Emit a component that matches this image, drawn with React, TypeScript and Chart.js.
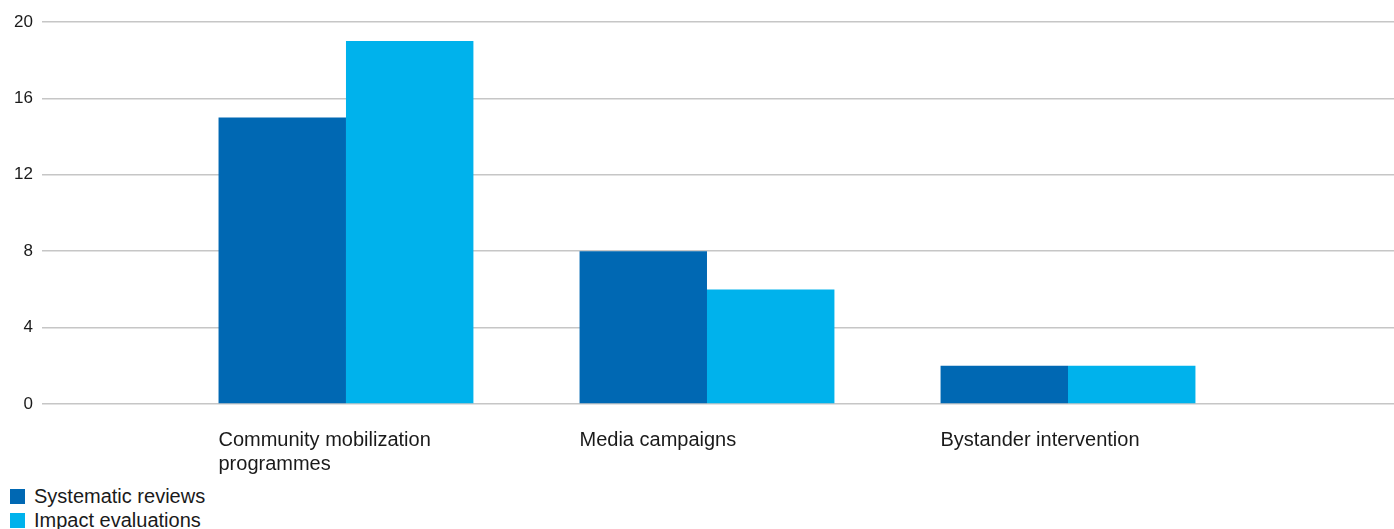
import React, { useEffect, useRef } from 'react';
import { Chart, registerables } from 'chart.js';

Chart.register(...registerables);

const categories: string[][] = [
  ['Community mobilization', 'programmes'],
  ['Media campaigns'],
  ['Bystander intervention'],
];
const systematicReviews = [15, 8, 2];
const impactEvaluations = [19, 6, 2];
const seriesNames = ['Systematic reviews', 'Impact evaluations'];
const seriesColors = ['#0068B3', '#00B2EC'];
const yTicks = [0, 4, 8, 12, 16, 20];

const FONT = '"Liberation Sans", Arial, Helvetica, sans-serif';
const TEXT = '#1a1a1a';

export default function App() {
  const ref = useRef<HTMLCanvasElement>(null);

  useEffect(() => {
    const canvas = ref.current;
    if (!canvas) return;
    const series = [systematicReviews, impactEvaluations];
    const chart = new Chart(canvas, {
      type: 'bar',
      data: {
        datasets: series.map((vals, k) => ({
          label: seriesNames[k],
          data: vals.map((v, i) => ({ x: i, y: v })),
          backgroundColor: seriesColors[k],
          borderWidth: 0,
          categoryPercentage: 0.706,
          barPercentage: 1,
        })),
      },
      options: {
        animation: false,
        responsive: false,
        maintainAspectRatio: false,
        layout: { padding: { top: 22, left: 0, right: 0, bottom: 0 } },
        plugins: {
          legend: { display: false },
          tooltip: { enabled: false },
        },
        scales: {
          x: {
            type: 'linear',
            offset: false,
            min: -0.842,
            max: 2.903,
            grid: { display: false },
            border: { display: false },
            ticks: {
              stepSize: 1,
              includeBounds: false,
              autoSkip: false,
              maxRotation: 0,
              minRotation: 0,
              align: 'start',
              labelOffset: -127.5,
              padding: 16,
              color: TEXT,
              font: { family: FONT, size: 20, lineHeight: 1.2 },
              callback: (v: any) => categories[v as number] ?? '',
            },
            afterFit: (s: any) => {
              s.height = 74;
            },
          },
          y: {
            min: 0,
            max: 20,
            grid: { color: '#c6c6c6', lineWidth: 1.6, drawTicks: false },
            border: { display: false },
            ticks: {
              stepSize: 4,
              padding: 9,
              color: TEXT,
              font: { family: FONT, size: 17 },
            },
            afterBuildTicks: (s: any) => {
              s.ticks = yTicks.map((v) => ({ value: v }));
            },
            afterFit: (s: any) => {
              s.width = 42;
            },
          },
        },
      } as any,
    });
    return () => chart.destroy();
  }, []);

  return (
    <div
      style={{
        position: 'fixed',
        left: 0,
        top: 0,
        width: 1394,
        height: 529,
        background: '#fff',
        overflow: 'hidden',
        fontFamily: FONT,
      }}
    >
      <canvas ref={ref} width={1394} height={478} style={{ display: 'block', width: 1394, height: 478 }} />
      <div style={{ position: 'absolute', left: 10, top: 484 }}>
        {seriesNames.map((name, k) => (
          <div key={name} style={{ display: 'flex', alignItems: 'center', height: 24 }}>
            <span
              style={{
                display: 'inline-block',
                width: 15,
                height: 15,
                background: seriesColors[k],
                marginRight: 9,
              }}
            />
            <span style={{ fontSize: 20, color: TEXT, lineHeight: '24px', whiteSpace: 'nowrap' }}>{name}</span>
          </div>
        ))}
      </div>
    </div>
  );
}
